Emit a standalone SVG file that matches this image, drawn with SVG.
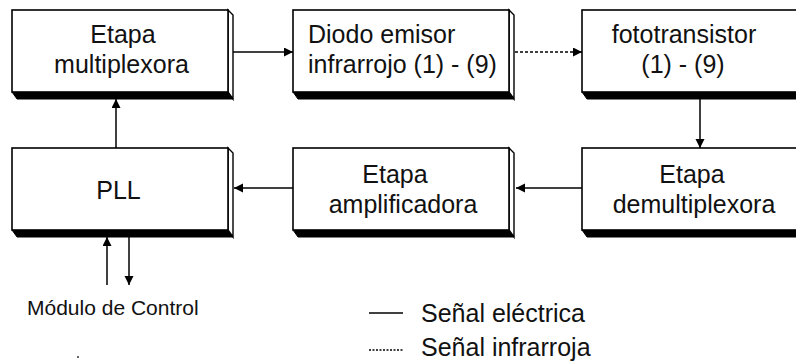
<svg xmlns="http://www.w3.org/2000/svg" xmlns:xlink="http://www.w3.org/1999/xlink" width="796" height="364" viewBox="0 0 796 364">
  <style>
    .lbl { font-family: "Liberation Sans", Arial, sans-serif; font-size: 25px; fill: #111; }
    .mid { text-anchor: middle; }
    .small { font-size: 21px; }
    .conn { stroke: #000; stroke-width: 1.5; fill: none; }
    .dot { stroke-dasharray: 3 2; }
    .front { fill: #fff; stroke: #000; stroke-width: 1.6; }
    .side { fill: #fff; stroke: #000; stroke-width: 1.4; }
    .bottom { fill: #000; stroke: #000; stroke-width: 1; }
  </style>
  <defs>
    <g id="box3d">
      <polygon class="bottom" points="0,82 216,82 221,89 5,89"/>
      <polygon class="side" points="216,0 221,5 221,89 216,82"/>
      <rect class="front" x="0" y="0" width="216" height="82"/>
    </g>
    <marker id="arr" markerUnits="userSpaceOnUse" markerWidth="10" markerHeight="10" refX="9" refY="4.5" orient="auto">
      <path d="M0,0 L9,4.5 L0,9 z" fill="#000"/>
    </marker>
  </defs>

  <g id="connectors">
    <line class="conn" x1="233" y1="52" x2="293" y2="52" marker-end="url(#arr)"/>
    <line class="conn dot" x1="515" y1="52" x2="582" y2="52" marker-end="url(#arr)"/>
    <line class="conn" x1="700" y1="99" x2="700" y2="148" marker-end="url(#arr)"/>
    <line class="conn" x1="582" y1="188" x2="516" y2="188" marker-end="url(#arr)"/>
    <line class="conn" x1="293" y1="188" x2="234" y2="188" marker-end="url(#arr)"/>
    <line class="conn" x1="116" y1="148" x2="116" y2="99" marker-end="url(#arr)"/>
    <line class="conn" x1="107" y1="285" x2="107" y2="237" marker-end="url(#arr)"/>
    <line class="conn" x1="129" y1="237" x2="129" y2="285" marker-end="url(#arr)"/>
  </g>

  <g id="multiplexora">
    <use xlink:href="#box3d" transform="translate(12,10)"/>
    <text class="lbl mid" x="123" y="43">Etapa</text>
    <text class="lbl mid" x="121.5" y="73">multiplexora</text>
  </g>

  <g id="diodo">
    <use xlink:href="#box3d" transform="translate(293,10)"/>
    <text class="lbl" x="308" y="43">Diodo emisor</text>
    <text class="lbl" x="308" y="73">infrarrojo (1) - (9)</text>
  </g>

  <g id="fototransistor">
    <use xlink:href="#box3d" transform="translate(582,10)"/>
    <text class="lbl mid" x="684" y="43">fototransistor</text>
    <text class="lbl mid" x="683" y="73">(1) - (9)</text>
  </g>

  <g id="pll">
    <use xlink:href="#box3d" transform="translate(12,148)"/>
    <text class="lbl mid" x="118.5" y="199">PLL</text>
  </g>

  <g id="amplificadora">
    <use xlink:href="#box3d" transform="translate(293,148)"/>
    <text class="lbl mid" x="395" y="183">Etapa</text>
    <text class="lbl mid" x="403" y="213">amplificadora</text>
  </g>

  <g id="demultiplexora">
    <use xlink:href="#box3d" transform="translate(582,148)"/>
    <text class="lbl mid" x="692" y="183">Etapa</text>
    <text class="lbl mid" x="694" y="213">demultiplexora</text>
  </g>

  <g id="modulo-control">
    <text class="lbl small" x="27" y="315">Módulo de Control</text>
  </g>
  <circle cx="78" cy="357" r="1" fill="#333"/>

  <g id="legend">
    <line class="conn" x1="369" y1="313" x2="403" y2="313"/>
    <text class="lbl" x="421" y="322">Señal eléctrica</text>
    <line class="conn" x1="369" y1="350" x2="403" y2="350" stroke-dasharray="2 1.5"/>
    <text class="lbl" x="421" y="356">Señal infrarroja</text>
  </g>
</svg>
